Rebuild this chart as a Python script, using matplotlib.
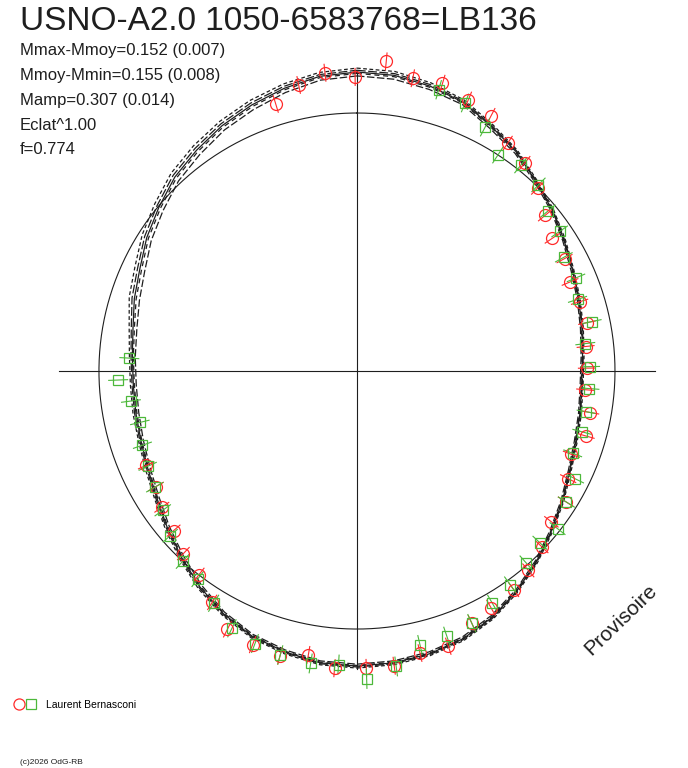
import numpy as np
import matplotlib
matplotlib.use("Agg")
import matplotlib.pyplot as plt
from matplotlib.lines import Line2D
from matplotlib.legend_handler import HandlerTuple

plt.rcParams['font.family'] = ['Liberation Sans', 'DejaVu Sans']

title = "USNO-A2.0 1050-6583768=LB136"
stats = ["Mmax-Mmoy=0.152 (0.007)", "Mmoy-Mmin=0.155 (0.008)",
         "Mamp=0.307 (0.014)", "Eclat^1.00", "f=0.774"]
observer = "Laurent Bernasconi"

# fitted light curve, delta mag from Mmoy, phase step 0.02
fit_phase = np.arange(50) * 0.02
fit_dm = [0.168, 0.164, 0.148, 0.127, 0.086, 0.053, 0.012, -0.020, -0.053, -0.082,
          -0.102, -0.119, -0.131, -0.135, -0.127, -0.115, -0.094, -0.061, -0.025, 0.016,
          0.057, 0.094, 0.123, 0.139, 0.148, 0.152, 0.148, 0.131, 0.111, 0.078,
          0.037, -0.008, -0.049, -0.086, -0.111, -0.127, -0.135, -0.139, -0.135, -0.123,
          -0.098, -0.074, -0.037, -0.004, 0.033, 0.061, 0.090, 0.115, 0.139, 0.160]
# half spread between the alternative fits
fit_spread = [0.016, 0.016, 0.014, 0.010, 0.010, 0.008, 0.006, 0.006, 0.006, 0.006,
              0.006, 0.006, 0.006, 0.006, 0.006, 0.006, 0.006, 0.006, 0.006, 0.006,
              0.006, 0.008, 0.008, 0.008, 0.008, 0.008, 0.008, 0.008, 0.008, 0.008,
              0.010, 0.010, 0.010, 0.010, 0.010, 0.010, 0.012, 0.012, 0.012, 0.016,
              0.022, 0.022, 0.022, 0.022, 0.022, 0.022, 0.020, 0.020, 0.018, 0.016]

red_phase = [0.953, 0.968, 0.983, 0.999, 0.015, 0.030, 0.046, 0.062, 0.077, 0.093,
             0.108, 0.124, 0.140, 0.155, 0.171, 0.187, 0.202, 0.217, 0.233, 0.248,
             0.263, 0.278, 0.294, 0.309, 0.325, 0.339, 0.355, 0.371, 0.387, 0.401,
             0.418, 0.432, 0.449, 0.465, 0.480, 0.495, 0.512, 0.527, 0.542, 0.558,
             0.574, 0.589, 0.605, 0.621, 0.636, 0.653, 0.667, 0.683]
red_dm = [0.086, 0.139, 0.172, 0.148, 0.217, 0.164, 0.172, 0.143, 0.123, 0.061,
          0.037, -0.004, -0.057, -0.090, -0.090, -0.111, -0.102, -0.094, -0.115, -0.115,
          -0.119, -0.086, -0.082, -0.115, -0.086, -0.049, -0.049, -0.012, 0.020, 0.045,
          0.057, 0.078, 0.131, 0.127, 0.160, 0.160, 0.164, 0.123, 0.152, 0.143,
          0.127, 0.061, 0.000, -0.025, -0.061, -0.082, -0.107, -0.111]
red_err = 0.037

green_phase = [0.045, 0.061, 0.077, 0.092, 0.107, 0.123, 0.139, 0.154, 0.170, 0.186,
               0.200, 0.217, 0.231, 0.247, 0.262, 0.278, 0.292, 0.308, 0.323, 0.339,
               0.356, 0.370, 0.385, 0.401, 0.416, 0.432, 0.448, 0.464, 0.479, 0.495,
               0.510, 0.525, 0.542, 0.557, 0.572, 0.588, 0.604, 0.618, 0.635, 0.651,
               0.667, 0.682, 0.697, 0.713, 0.729, 0.744, 0.759]
green_dm = [0.143, 0.127, 0.070, 0.000, 0.020, 0.008, -0.037, -0.049, -0.090, -0.082,
            -0.107, -0.074, -0.115, -0.102, -0.102, -0.102, -0.102, -0.111, -0.061, -0.045,
            -0.012, -0.029, -0.008, 0.020, 0.045, 0.078, 0.090, 0.094, 0.164, 0.205,
            0.148, 0.156, 0.148, 0.135, 0.115, 0.061, 0.016, 0.000, -0.037, -0.078,
            -0.102, -0.115, -0.127, -0.143, -0.123, -0.078, -0.123]
green_err = 0.041

RED = "#ff2a2a"
GREEN = "#4cb83a"
INK = "#1e1e1e"

fig = plt.figure(figsize=(6.88, 7.68), dpi=100)
ax = fig.add_axes([0.0392, 0.0872, 0.9593, 0.8594], projection='polar')
ax.set_theta_zero_location('N')
ax.set_theta_direction(-1)
r_center = -1.0574
ax.set_ylim(r_center, 0.295)
ax.grid(False)
ax.set_xticks([])
ax.set_yticks([])
ax.spines['polar'].set_visible(False)
ax.patch.set_alpha(0)

# mean magnitude circle and axes cross
t = np.linspace(0, 2 * np.pi, 400)
ax.plot(t, np.zeros_like(t), color=INK, lw=0.8)
for a in (0, 0.5 * np.pi, np.pi, 1.5 * np.pi):
    ax.plot([a, a], [r_center, 0.163], color=INK, lw=0.8)

# fits
th = 2 * np.pi * np.append(fit_phase, 1.0)
dm = np.append(fit_dm, fit_dm[0])
sp = np.append(fit_spread, fit_spread[0])
ax.plot(th, dm, color=INK, lw=0.9)
for k, ls in ((-1.0, (0, (6, 2))), (-0.35, (0, (4, 3))), (0.45, (0, (7, 2))), (1.0, (0, (3, 2)))):
    ax.plot(th, dm + k * sp, color=INK, lw=0.9, ls=ls)

# observations
rt = 2 * np.pi * np.array(red_phase)
gt = 2 * np.pi * np.array(green_phase)
ax.errorbar(rt, red_dm, yerr=red_err, fmt='none', ecolor=RED, elinewidth=0.8, clip_on=False)
ax.errorbar(gt, green_dm, yerr=green_err, fmt='none', ecolor=GREEN, elinewidth=0.8, clip_on=False)
ax.plot(rt, red_dm, 'o', ms=8.6, mfc='none', mec=RED, mew=0.9, clip_on=False)
ax.plot(gt, green_dm, 's', ms=7.0, mfc='none', mec=GREEN, mew=0.9, clip_on=False)

fig.text(20 / 688, 1 - 21 / 768, title, fontsize=24, color=INK, va='center', ha='left')
for i, s in enumerate(stats):
    fig.text(20 / 688, 1 - (51 + 24.7 * i) / 768, s, fontsize=12, color=INK, va='center', ha='left')

fig.text(621 / 688, 1 - 620 / 768, "Provisoire", fontsize=15, rotation=44, color=INK,
         ha='center', va='center')

h_red = Line2D([], [], marker='o', ls='none', ms=8, mfc='none', mec=RED, mew=0.9)
h_green = Line2D([], [], marker='s', ls='none', ms=6.5, mfc='none', mec=GREEN, mew=0.9)
fig.legend(handles=[(h_red, h_green)], labels=[observer],
           handler_map={tuple: HandlerTuple(ndivide=None, pad=0.3)},
           loc='center left', bbox_to_anchor=(5 / 688, 1 - 705 / 768), frameon=False,
           fontsize=7.5, handlelength=2.0, handletextpad=1.0)

fig.text(20 / 688, 1 - 763 / 768, "(c)2026 OdG-RB", fontsize=6, color=INK, va='center', ha='left')

fig.savefig("out.png", dpi=100, facecolor='white')
